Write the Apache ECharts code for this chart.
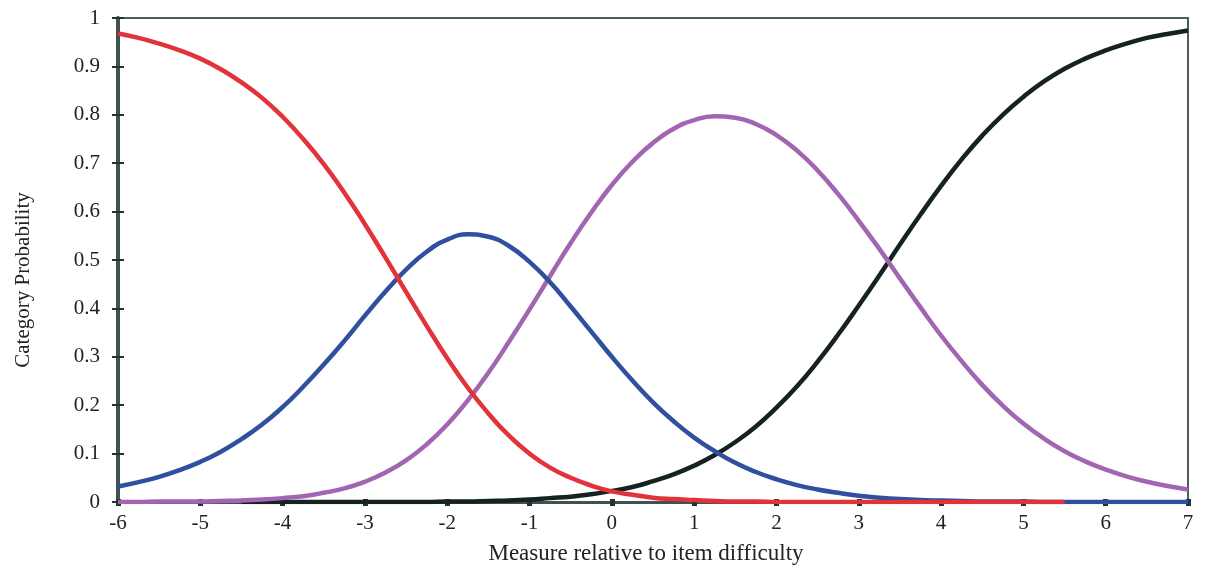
<!DOCTYPE html>
<html>
<head>
<meta charset="utf-8">
<script src="https://cdn.jsdelivr.net/npm/echarts@6/dist/echarts.min.js"></script>
<style>
html,body{margin:0;padding:0;background:#fff;}
#c{width:1206px;height:574px;}
</style>
</head>
<body>
<div id="c"></div>
<script>
// Measure values (x axis), quarter steps
const measures = [-6,-5.75,-5.5,-5.25,-5,-4.75,-4.5,-4.25,-4,-3.75,-3.5,-3.25,-3,-2.75,-2.5,-2.25,-2,-1.75,-1.5,-1.25,-1,-0.75,-0.5,-0.25,
  0,0.25,0.5,0.75,1,1.25,1.5,1.75,2,2.25,2.5,2.75,3,3.25,3.5,3.75,4,4.25,4.5,4.75,5,5.25,5.5,5.75,6,6.25,6.5,6.75,7];
// Category probability curves
const cat1 = [0.968,0.959,0.947,0.933,0.916,0.894,0.867,0.835,0.796,0.750,0.698,0.639,0.574,0.505,0.434,0.364,0.297,0.236,0.183,0.137,0.100,0.071,0.050,0.034,
  0.022,0.015,0.009,0.006,0.004,0.002,0.001,0.001,0,0,0,0,0,0,0,0,0,0,0,0,0,0,0];
const cat2 = [0.032,0.041,0.052,0.066,0.083,0.104,0.130,0.160,0.196,0.238,0.284,0.333,0.385,0.435,0.480,0.517,0.542,0.553,0.548,0.529,0.496,0.454,0.404,0.352,
  0.300,0.251,0.206,0.167,0.133,0.105,0.081,0.062,0.047,0.035,0.026,0.019,0.013,0.009,0.006,0.004,0.003,0.002,0.001,0.001,0.001,0,0,0,0,0,0,0,0];
const cat3 = [0,0,0.001,0.001,0.001,0.002,0.003,0.005,0.008,0.012,0.019,0.028,0.042,0.061,0.086,0.119,0.160,0.210,0.267,0.331,0.398,0.467,0.535,0.598,
  0.655,0.703,0.742,0.771,0.789,0.797,0.794,0.781,0.758,0.726,0.685,0.636,0.581,0.523,0.462,0.402,0.344,0.291,0.242,0.199,0.162,0.131,0.105,0.084,0.067,0.053,0.042,0.033,0.026];
const cat4 = [null,null,null,null,null,null,0,0,0,0,0,0,0,0,0,0,0.001,0.001,0.002,0.003,0.005,0.008,0.011,0.016,
  0.023,0.031,0.043,0.057,0.075,0.097,0.124,0.156,0.195,0.239,0.290,0.346,0.406,0.468,0.532,0.594,0.653,0.708,0.757,0.800,0.837,0.869,0.895,0.916,0.933,0.947,0.959,0.967,0.974];
const xTitle = 'Measure relative to item difficulty';
const yTitle = 'Category Probability';

function pairs(vals){ return vals.map((v,i)=>[measures[i], v]); }

const font = '"Liberation Serif", "DejaVu Serif", serif';
const chart = echarts.init(document.getElementById('c'), null, {renderer:'canvas'});
const axisCol = '#3e5252';
chart.setOption({
  animation:false,
  backgroundColor:'#ffffff',
  grid:{left:118,right:18,top:18,bottom:72,show:true,borderColor:'#4d5c5c',borderWidth:2,backgroundColor:'transparent'},
  xAxis:[{
    type:'value',min:-6,max:7,interval:1,
    name:xTitle,nameLocation:'middle',nameGap:40,
    nameTextStyle:{fontFamily:font,fontSize:23,color:'#222',padding:[0,14,0,0]},
    axisLine:{show:true,onZero:false,lineStyle:{color:axisCol,width:3}},
    axisTick:{show:true,length:4,lineStyle:{color:'#233',width:5}},
    axisLabel:{fontFamily:font,fontSize:21,color:'#222',margin:11},
    splitLine:{show:false}
  },{
    type:'value',min:-6,max:7,interval:1,position:'bottom',
    axisLine:{show:false,onZero:false},
    axisTick:{show:true,inside:true,length:3,lineStyle:{color:'#233',width:5}},
    axisLabel:{show:false},splitLine:{show:false}
  }],
  yAxis:[{
    type:'value',min:0,max:1,interval:0.1,
    name:yTitle,nameLocation:'middle',nameGap:84,
    nameTextStyle:{fontFamily:font,fontSize:21,color:'#222',padding:[0,40,0,0]},
    axisLine:{show:true,onZero:false,lineStyle:{color:axisCol,width:4}},
    axisTick:{show:true,length:6,lineStyle:{color:'#233',width:2}},
    axisLabel:{fontFamily:font,fontSize:21,color:'#222',margin:18},
    splitLine:{show:false}
  },{
    type:'value',min:0,max:1,interval:0.1,position:'left',
    axisLine:{show:false,onZero:false},
    axisTick:{show:true,inside:true,length:6,lineStyle:{color:'#233',width:2}},
    axisLabel:{show:false},splitLine:{show:false}
  }],
  series:[
    {type:'line',data:pairs(cat4),smooth:true,showSymbol:false,lineStyle:{color:'#162222',width:4.5},z:2},
    {type:'line',data:pairs(cat3),smooth:true,showSymbol:false,lineStyle:{color:'#a265b2',width:4.5},z:3},
    {type:'line',data:pairs(cat2),smooth:true,showSymbol:false,lineStyle:{color:'#2f4f9f',width:4.5},z:4},
    {type:'line',data:pairs(cat1),smooth:true,showSymbol:false,lineStyle:{color:'#e2323a',width:4.5},z:5}
  ]
});
</script>
</body>
</html>
